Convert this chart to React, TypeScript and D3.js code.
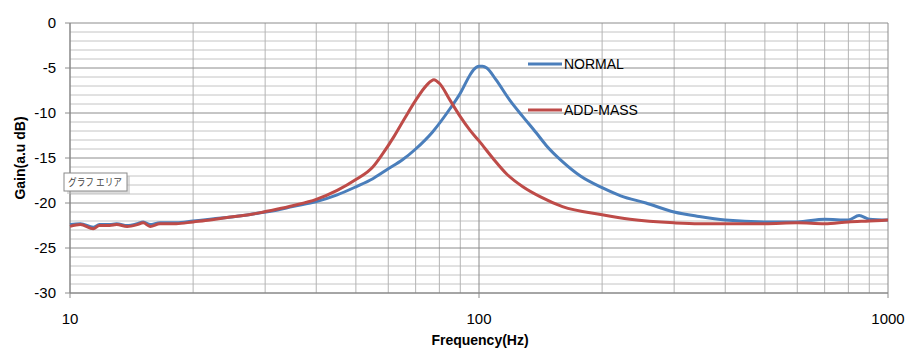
import React from "react";
import * as d3 from "d3";

const normalFreq = [10, 10.6, 11.4, 11.8, 12.5, 13, 13.8, 14.6, 15.1, 15.7, 16.6, 18.2, 20, 22, 24.2, 26.5, 29, 32, 35, 40, 45, 50, 55, 60, 65, 70, 77, 85, 90, 95, 97, 100, 102, 104.5, 110, 119, 128, 138, 146, 160, 177, 200, 222, 256, 300, 345, 400, 500, 600, 700, 800, 850, 900, 1000];
const normalGain = [-22.4, -22.3, -22.7, -22.4, -22.4, -22.3, -22.5, -22.3, -22.1, -22.4, -22.2, -22.2, -22.0, -21.8, -21.6, -21.4, -21.1, -20.8, -20.4, -19.85, -19.1, -18.2, -17.3, -16.2, -15.2, -14.0, -12.1, -9.5, -7.8, -5.8, -5.2, -4.8, -4.8, -5.0, -6.3, -8.6, -10.4, -12.2, -13.6, -15.4, -17.0, -18.3, -19.2, -20.0, -21.0, -21.5, -21.9, -22.1, -22.1, -21.8, -21.9, -21.4, -21.8, -21.9];

const addMassFreq = [10, 10.6, 11.4, 11.8, 12.5, 13, 13.8, 14.6, 15.1, 15.7, 16.6, 18.2, 20, 22, 24.2, 26.5, 29, 32, 35, 40, 45, 50, 55, 58, 62, 66, 70, 74.5, 77.6, 80, 85, 90, 95, 100, 108, 117, 128, 141, 160, 200, 234, 300, 345, 400, 500, 600, 700, 800, 900, 1000];
const addMassGain = [-22.6, -22.4, -22.85, -22.5, -22.5, -22.4, -22.6, -22.4, -22.2, -22.6, -22.3, -22.3, -22.1, -21.9, -21.6, -21.4, -21.1, -20.7, -20.3, -19.6, -18.6, -17.4, -16.0, -14.6, -12.6, -10.5, -8.6, -6.9, -6.3, -6.7, -8.6, -10.4, -11.9, -13.1, -15.0, -16.8, -18.2, -19.3, -20.4, -21.3, -21.8, -22.2, -22.3, -22.3, -22.3, -22.2, -22.3, -22.1, -22.0, -21.9];

const yTicks = [0, -5, -10, -15, -20, -25, -30];
const xTicks = [10, 100, 1000];
const seriesNames = ["NORMAL", "ADD-MASS"];
const colors = ["#4A7EBB", "#BE4B48"];

export default function App() {
  const W = 910, H = 356;
  const x0 = 70, x1 = 888, y0 = 23, y1 = 293;
  const x = d3.scaleLog().domain([10, 1000]).range([x0, x1]);
  const y = d3.scaleLinear().domain([-30, 0]).range([y1, y0]);
  const line = d3.line<[number, number]>().x(d => x(d[0])).y(d => y(d[1])).curve(d3.curveMonotoneX);

  const minorY = d3.range(-30, 1, 1);
  const minorX: number[] = [];
  [10, 100].forEach(b => { for (let k = 2; k <= 9; k++) minorX.push(b * k); });

  const normalPts = normalFreq.map((f, i) => [f, normalGain[i]] as [number, number]);
  const addPts = addMassFreq.map((f, i) => [f, addMassGain[i]] as [number, number]);
  const font = "'Liberation Sans', Arial, sans-serif";

  return (
    <svg width={W} height={H} style={{ position: "absolute", left: 0, top: 0, background: "#fff" }} fontFamily={font}>
      <rect width={W} height={H} fill="#fff" />
      {minorY.filter(v => v % 5 !== 0).map(v => (
        <line key={"hy" + v} x1={x0} x2={x1} y1={y(v)} y2={y(v)} stroke="#c4c4c4" strokeWidth={1} />
      ))}
      {minorX.map(v => (
        <line key={"vx" + v} x1={x(v)} x2={x(v)} y1={y0} y2={y1} stroke="#b4b4b4" strokeWidth={1} />
      ))}
      {yTicks.map(v => (
        <line key={"my" + v} x1={x0 - 5} x2={x1} y1={y(v)} y2={y(v)} stroke="#8c8c8c" strokeWidth={1} />
      ))}
      {xTicks.map(v => (
        <line key={"mx" + v} x1={x(v)} x2={x(v)} y1={y0} y2={y1 + 5} stroke="#8c8c8c" strokeWidth={1} />
      ))}
      <line x1={x0} x2={x0} y1={y0} y2={y1} stroke="#868686" />
      <line x1={x0} x2={x1} y1={y1} y2={y1} stroke="#868686" />

      {yTicks.map(v => (
        <text key={"ty" + v} x={56} y={y(v)} dy="0.35em" textAnchor="end" fontSize={15} fill="#000">{v}</text>
      ))}
      {xTicks.map(v => (
        <text key={"tx" + v} x={x(v)} y={324} textAnchor="middle" fontSize={15} fill="#000">{v}</text>
      ))}
      <text x={480} y={345} textAnchor="middle" fontSize={14} fontWeight="bold" fill="#000">Frequency(Hz)</text>
      <text transform="translate(25,158) rotate(-90)" textAnchor="middle" fontSize={14} fontWeight="bold" fill="#000">Gain(a.u dB)</text>

      <path d={line(normalPts) || ""} fill="none" stroke={colors[0]} strokeWidth={3} strokeLinejoin="round" />
      <path d={line(addPts) || ""} fill="none" stroke={colors[1]} strokeWidth={3} strokeLinejoin="round" />

      {seriesNames.map((n, i) => (
        <g key={n}>
          <line x1={528} x2={562} y1={64 + i * 46} y2={64 + i * 46} stroke={colors[i]} strokeWidth={3} />
          <text x={564} y={64 + i * 46} dy="0.35em" fontSize={14} fill="#000">{n}</text>
        </g>
      ))}

      <rect x={67} y={176} width={63} height={18} fill="#bbb" opacity={0.5} />
      <rect x={64} y={173} width={63} height={18} fill="#fff" stroke="#8a8a8a" strokeWidth={1} />
      <text x={68} y={182} dy="0.35em" fontSize={10} fill="#444" textLength={54} lengthAdjust="spacingAndGlyphs" fontFamily="'Noto Sans CJK JP', sans-serif">グラフ エリア</text>
    </svg>
  );
}
